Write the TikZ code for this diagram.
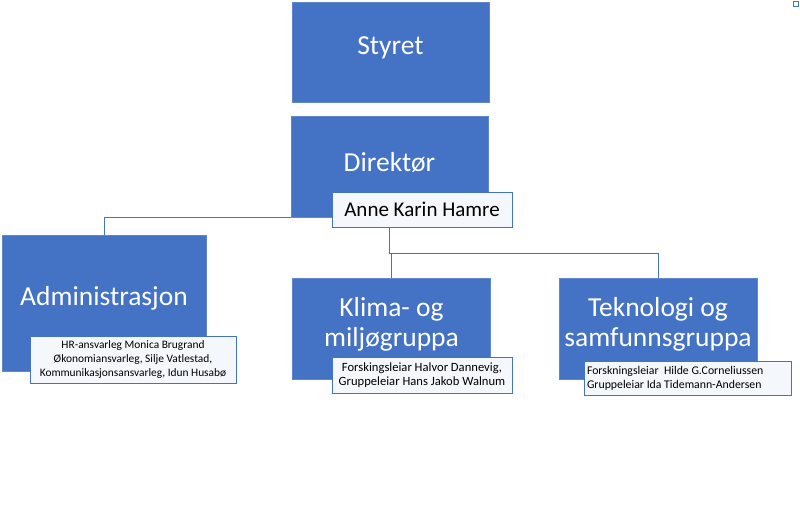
\documentclass[tikz,border=0pt]{standalone}
\usepackage{fontspec}
\setmainfont{Carlito}
\usetikzlibrary{positioning}
\usetikzlibrary{calc}
\definecolor{orgblue}{HTML}{4472C4}
\tikzstyle{unit}=[rectangle,fill=orgblue,draw=orgblue!85!white,line width=0.6pt,inner sep=0pt]
\tikzstyle{unittext}=[text=white,font=\fontsize{27.5}{30}\selectfont,align=center,inner sep=0pt]
\tikzstyle{namebox}=[rectangle,fill=orgblue!6,draw=orgblue,line width=0.9pt,inner sep=0pt]
\tikzstyle{smalltext}=[font=\fontsize{11.4}{14}\selectfont]
\tikzstyle{link}=[draw=orgblue,line width=0.9pt]

\begin{document}
\begin{tikzpicture}[x=1pt,y=-1pt]
    \useasboundingbox (0,0) rectangle (800,530);

    % First we draw the units
    \foreach \pos/\name/\w/\h/\label in {{(390.5,52)/styret/197/100/Styret}, {(389.5,166.5)/dir/197/101/Direktør}, {(104,303)/adm/204/136/Administrasjon}, {(391.5,328.5)/klima/198/101/{Klima- og\\miljøgruppa}}, {(658,328.5)/tek/198/101/{Teknologi og\\samfunnsgruppa}}}
      {
        \node[unit,minimum width=\w pt,minimum height=\h pt] (\name) at \pos {};
        \node[unittext] (\name-txt) at ([yshift=4.5pt]\name.center) {\label};
      }

    % Then the boxes with names
    \node[namebox,minimum width=180pt,minimum height=35pt,font=\fontsize{21}{24}\selectfont] (anne) at (422,209.5) {Anne Karin Hamre};
    \node[namebox,smalltext,minimum width=206pt,minimum height=47pt,align=center] (admstaff) at (133,359.5) {HR-ansvarleg Monica Brugrand\\Økonomiansvarleg, Silje Vatlestad,\\Kommunikasjonsansvarleg, Idun Husabø};
    \node[namebox,font=\fontsize{12.6}{14}\selectfont,minimum width=180pt,minimum height=36pt,align=center] (klimastaff) at (422,375) {Forskingsleiar Halvor Dannevig,\\Gruppeleiar Hans Jakob Walnum};
    \node[namebox,font=\fontsize{11.8}{14}\selectfont,minimum width=207pt,minimum height=34pt,inner xsep=3pt,text width=201pt,align=flush left] (tekstaff) at (687.5,378) {Forskningsleiar\ \ Hilde G.Corneliussen\\Gruppeleiar Ida Tidemann-Andersen};

    % Connect units with lines
    \draw[link] (dir.south west) -| (adm.north);
    \coordinate (hub) at ([yshift=-26pt]anne.south -| dir.south);
    \draw[link] (anne.south -| dir.south) -- (hub) -| (tek.north);
    \draw[link] (hub) -| (klima.north);

    % small handle in the corner
    \node[draw=orgblue,fill=white,line width=0.8pt,minimum size=5pt,inner sep=0pt] (handle) at (796,4) {};

\end{tikzpicture}
\end{document}
